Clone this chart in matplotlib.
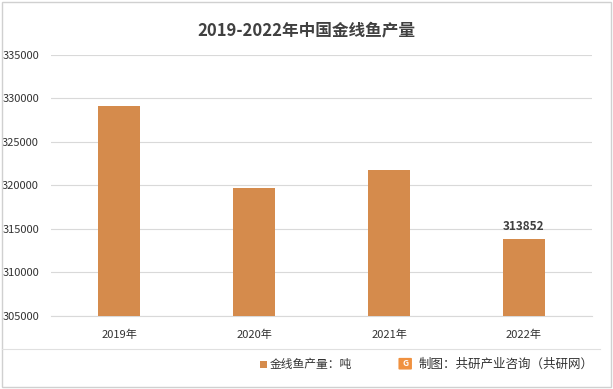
import matplotlib
matplotlib.use('Agg')
import matplotlib.pyplot as plt
from matplotlib.patches import Rectangle, FancyBboxPatch

plt.rcParams['font.family'] = ['Noto Sans CJK SC', 'DejaVu Sans']

years = ['2019年', '2020年', '2021年', '2022年']
output = [329150, 319700, 321800, 313852]
yticks = [305000, 310000, 315000, 320000, 325000, 330000, 335000]
bar_color = '#D58B4C'

fig = plt.figure(figsize=(6.13, 3.89), dpi=100)
ax = fig.add_axes([0.084, 0.188, 0.881, 0.671])

x = range(len(years))
ax.bar(x, output, width=0.31, color=bar_color, zorder=3)
ax.set_xlim(-0.5, len(years) - 0.5)
ax.set_ylim(305000, 335000)
ax.set_yticks(yticks)
ax.set_yticklabels([str(v) for v in yticks], fontsize=8, color='#333333')
ax.set_xticks(list(x))
ax.set_xticklabels(years, fontsize=8, color='#333333')
ax.grid(axis='y', color='#d9d9d9', linewidth=0.8, zorder=0)
for s in ['top', 'right', 'left']:
    ax.spines[s].set_visible(False)
ax.spines['bottom'].set_color('#d9d9d9')
ax.tick_params(length=0)
ax.tick_params(axis='x', pad=10)
ax.tick_params(axis='y', pad=9)

# label on last bar
ax.text(x[-1], output[-1] + 700, str(output[-1]), ha='center', va='bottom',
        fontsize=8.5, fontweight='bold', color='#404040')

fig.text(0.5, 0.922, '2019-2022年中国金线鱼产量', ha='center', va='center',
         fontsize=12, fontweight='bold', color='#404040')

# frame and separator
fig.patches.append(Rectangle((0.003, 0.004), 0.994, 0.992, transform=fig.transFigure,
                             fill=False, edgecolor='#d0d0d0', linewidth=1))
fig.add_artist(plt.Line2D([0.003, 0.978], [0.104, 0.104], transform=fig.transFigure,
                          color='#e0e0e0', linewidth=0.8))

# legend
fig.patches.append(Rectangle((0.424, 0.054), 0.012, 0.019, transform=fig.transFigure,
                             facecolor=bar_color, edgecolor='none'))
fig.text(0.440, 0.064, '金线鱼产量：吨', ha='left', va='center', fontsize=8.5,
         fontweight='medium', color='#333333')

# source logo
fig.patches.append(FancyBboxPatch((0.652, 0.052), 0.018, 0.026, transform=fig.transFigure,
                                  boxstyle='round,pad=0.002', facecolor='#F0913F', edgecolor='none'))
fig.text(0.661, 0.065, 'G', ha='center', va='center', fontsize=6, fontweight='bold', color='white')
fig.text(0.683, 0.064, '制图：共研产业咨询（共研网）', ha='left', va='center', fontsize=9,
         fontweight='medium', color='#333333')

fig.savefig('out.png', dpi=100)
